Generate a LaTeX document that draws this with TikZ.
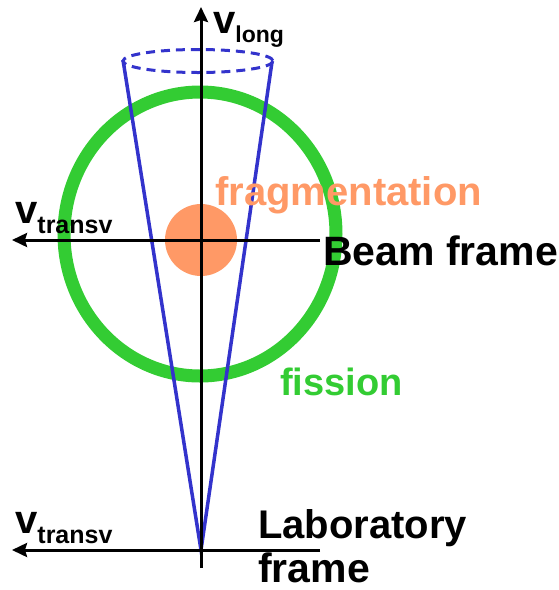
\documentclass[tikz,border=0pt]{standalone}
\usepackage{fontspec}
\setmainfont{Liberation Sans}
\usepackage{xcolor}
\usepackage{tikz}
\usetikzlibrary{arrows.meta, positioning}
\definecolor{fissgreen}{HTML}{33CC33}
\definecolor{fragorange}{HTML}{FF9966}
\definecolor{coneblue}{HTML}{3333CC}
\newcommand{\lblsize}[1]{\fontsize{#1}{#1}\selectfont}
\tikzset{
    axis/.style={draw=black, line width=3pt, -{Stealth[length=15pt, width=14pt, inset=2pt]}},
    coneline/.style={draw=coneblue, line width=3.5pt},
    lbl/.style={anchor=base west, inner sep=0pt, font=\bfseries}
}
\begin{document}
\begin{tikzpicture}[x=1pt, y=-1pt]
  \useasboundingbox (0,0) rectangle (559,590);
  % frames
  \coordinate (beamO) at (201,240);
  \coordinate (beamR) at (320,240);
  \coordinate (beamL) at (12,240);
  \coordinate (labO) at (201,550);
  \coordinate (labR) at (320,550);
  \coordinate (labL) at (12,550);
  \coordinate (axBot) at (201,568);
  \coordinate (axTop) at (201,7);
  \coordinate (coneL) at (123,60);
  \coordinate (coneR) at (272,62);
  % fission ring and fragmentation spot
  \draw[fissgreen, line width=13pt] (200,234) ellipse [x radius=136, y radius=142];
  \fill[fragorange] (beamO) circle [radius=36];
  % cone
  \draw[coneline] (coneL) -- (labO) -- (coneR);
  \draw[coneline, line width=3pt, dash pattern=on 9pt off 6pt] (198,61) ellipse [x radius=75, y radius=11.5];
  % axes
  \draw[axis] (axBot) -- (axTop);
  \draw[axis] (beamR) -- (beamL);
  \draw[axis] (labR) -- (labL);
  % labels
  \node[lbl] (vlong) at (213,33) {\lblsize{40}v\raisebox{-9pt}{\lblsize{23}long}};
  \node[lbl] (vbeam) at (15,223) {\lblsize{40}v\raisebox{-10pt}{\lblsize{25}transv}};
  \node[lbl] (vlab) at (15,533) {\lblsize{40}v\raisebox{-10pt}{\lblsize{25}transv}};
  \node[lbl, text=fragorange] (frag) at (215,205) {\lblsize{40}fragmentation};
  \node[lbl] (beam) at (323,265) {\lblsize{41}Beam frame};
  \node[lbl, text=fissgreen] (fiss) at (280,395) {\lblsize{38}fission};
  \node[lbl] (lab) at (258,538) {\lblsize{40}Laboratory};
  \node[lbl] (labfr) at (258,582) {\lblsize{41}frame};
\end{tikzpicture}
\end{document}
